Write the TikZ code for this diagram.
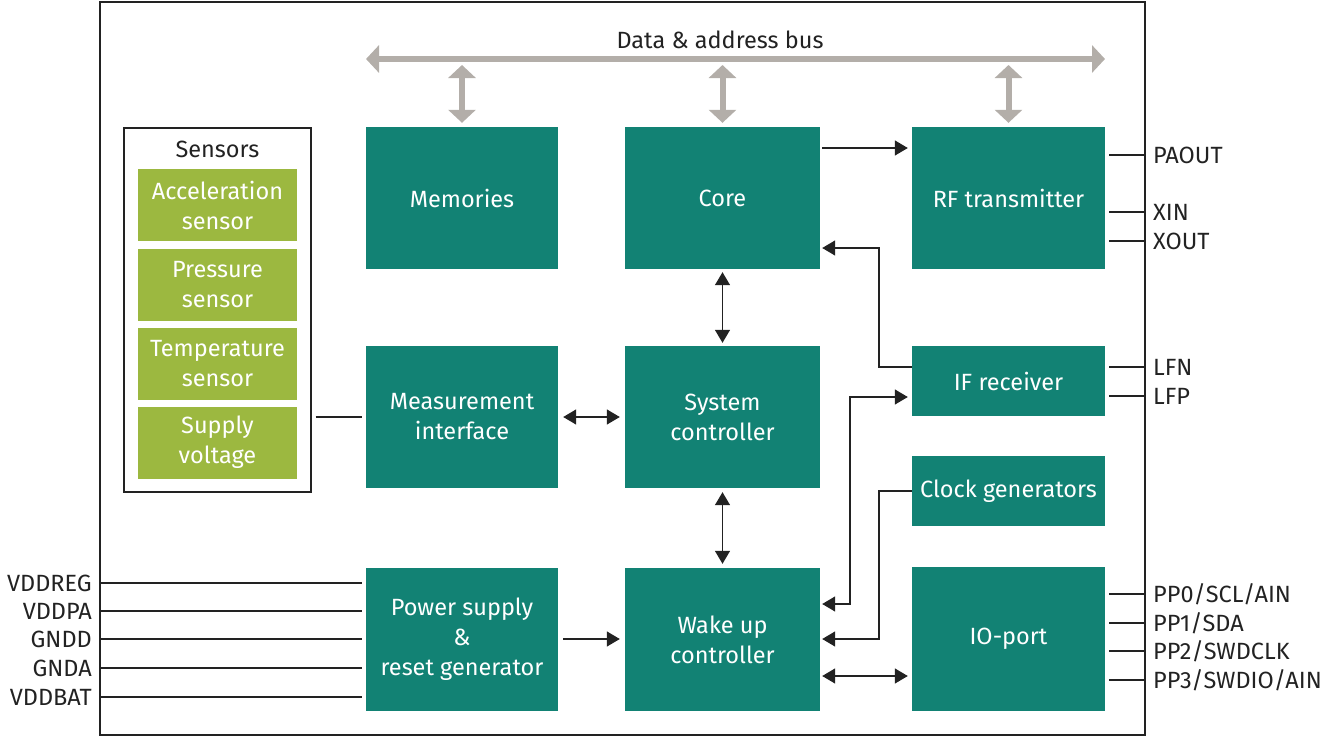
\documentclass[tikz,border=0pt]{standalone}
\usepackage{fontspec}
\setmainfont{Fira Sans}
\usetikzlibrary{arrows.meta,calc}
\definecolor{blockteal}{HTML}{128274}
\definecolor{sensgreen}{HTML}{9CB840}
\definecolor{busgray}{HTML}{B3AEA9}
\definecolor{ink}{HTML}{222222}
\newcommand{\txtfont}{\fontsize{23.5}{30}\selectfont}
\tikzset{
  blk/.style={fill=blockteal, draw=none, text=white, align=center,
    font=\txtfont, inner sep=0pt},
  sens/.style={fill=sensgreen, draw=none, text=white, align=center,
    font=\txtfont, inner sep=0pt,
    minimum width=159pt, minimum height=72pt},
  pinlbl/.style={text=ink, inner sep=0pt, text height=16.2pt, text depth=0pt,
    font=\txtfont},
  wire/.style={draw=ink, line width=1.4pt},
  arr/.style={wire, -{Triangle[length=13pt,width=15pt]}},
  darr/.style={wire, {Triangle[length=13pt,width=15pt]}-{Triangle[length=13pt,width=15pt]}},
  bus/.style={draw=busgray, line width=6pt,
    {Triangle[length=13pt,width=27pt]}-{Triangle[length=13pt,width=27pt]}},
}
\begin{document}
\begin{tikzpicture}[x=1pt, y=-1pt]
\useasboundingbox (0,0) rectangle (1334,736);

% chip outline
\draw[draw=ink, line width=1.3pt] (100,2) rectangle (1145,735);

% functional blocks
\node[blk, minimum width=192pt, minimum height=142pt] (mem)   at (462,198)    {Memories};
\node[blk, minimum width=195pt, minimum height=142pt] (core)  at (722.5,198)  {Core};
\node[blk, minimum width=193pt, minimum height=142pt] (rf)    at (1008.5,198) {RF transmitter};
\node[blk, minimum width=192pt, minimum height=142pt] (meas)  at (462,417)    {Measurement\\interface};
\node[blk, minimum width=195pt, minimum height=142pt] (sys)   at (722.5,417)  {System\\controller};
\node[blk, minimum width=193pt, minimum height=70pt]  (ifrx)  at (1008.5,381) {IF receiver};
\node[blk, minimum width=193pt, minimum height=70pt]  (clk)   at (1008.5,491) {Clock generators};
\node[blk, minimum width=192pt, minimum height=143pt] (pwr)   at (462,639.5)  {Power supply\\\&\\reset generator};
\node[blk, minimum width=195pt, minimum height=143pt] (wake)  at (722.5,639.5){Wake up\\controller};
\node[blk, minimum width=193pt, minimum height=144pt] (io)    at (1008.5,639) {IO-port};

% sensor group
\node[draw=ink, line width=1.3pt, minimum width=187pt, minimum height=364pt, inner sep=0pt] (sensors) at (217.5,310) {};
\node[text=ink, font=\txtfont] (senstitle) at (217.5,149) {Sensors};
\node[sens] (acc)  at (217.5,205)   {Acceleration\\sensor};
\node[sens] (pres) at (217.5,284.5) {Pressure\\sensor};
\node[sens] (temp) at (217.5,363.5) {Temperature\\sensor};
\node[sens] (supv) at (217.5,442.5) {Supply\\voltage};

% data & address bus
\coordinate (busl) at (366,59);
\coordinate (busr) at (1105,59);
\draw[bus] (busl) -- (busr);
\node[text=ink, font=\txtfont] (buslbl) at (720,40) {Data \& address bus};
\draw[bus, shorten >=4pt] (mem.north |- 0,65) -- (mem.north);
\draw[bus, shorten >=4pt] (core.north |- 0,65) -- (core.north);
\draw[bus, shorten >=4pt] (rf.north |- 0,65) -- (rf.north);

% internal signal paths
\draw[arr, shorten <=2pt, shorten >=4pt] (core.east |- 0,148) -- (rf.west |- 0,148);
\draw[arr, shorten >=2pt] (ifrx.west |- 0,367) -| (879,248) -- (core.east |- 0,248);
\draw[darr, shorten <=3pt, shorten >=3pt] (core.south) -- (sys.north);
\draw[darr, shorten <=5pt, shorten >=5pt] (meas.east) -- (sys.west);
\draw[darr, shorten <=4pt, shorten >=4pt] (sys.south) -- (wake.north);
\draw[arr, shorten <=5pt, shorten >=5pt] (pwr.east |- 0,639) -- (wake.west |- 0,639);
\draw[darr, shorten <=2pt, shorten >=4pt] (wake.east |- 0,604) -| (850,397) -- (ifrx.west |- 0,397);
\draw[arr, shorten >=2pt] (clk.west) -| (879,639) -- (wake.east |- 0,639);
\draw[darr, shorten <=2pt, shorten >=4pt] (wake.east |- 0,676) -- (io.west |- 0,676);
\draw[wire, shorten <=4pt, shorten >=4pt] (sensors.east |- 0,417) -- (meas.west |- 0,417);

% supply pins
\node[pinlbl, anchor=east] (vddreg) at (92,583) {VDDREG};
\node[pinlbl, anchor=east] (vddpa)  at (92,611) {VDDPA};
\node[pinlbl, anchor=east] (gndd)   at (92,639) {GNDD};
\node[pinlbl, anchor=east] (gnda)   at (92,668) {GNDA};
\node[pinlbl, anchor=east] (vddbat) at (92,697) {VDDBAT};
\foreach \p in {vddreg,vddpa,gndd,gnda,vddbat}
  \draw[wire, shorten <=8pt, shorten >=4pt] (\p.east) -- (pwr.west |- \p.east);

% RF, LF and port pins
\node[pinlbl, anchor=west] (paout) at (1153,155) {PAOUT};
\node[pinlbl, anchor=west] (xin)   at (1153,212) {XIN};
\node[pinlbl, anchor=west] (xout)  at (1153,241) {XOUT};
\node[pinlbl, anchor=west] (lfn)   at (1153,367) {LFN};
\node[pinlbl, anchor=west] (lfp)   at (1153,396) {LFP};
\node[pinlbl, anchor=west] (pp0)   at (1153,594) {PP0/SCL/AIN};
\node[pinlbl, anchor=west] (pp1)   at (1153,623) {PP1/SDA};
\node[pinlbl, anchor=west] (pp2)   at (1153,651) {PP2/SWDCLK};
\node[pinlbl, anchor=west] (pp3)   at (1153,680) {PP3/SWDIO/AIN};
\foreach \p/\b in {paout/rf,xin/rf,xout/rf,lfn/ifrx,lfp/ifrx,pp0/io,pp1/io,pp2/io,pp3/io}
  \draw[wire, shorten <=4pt, shorten >=8pt] (\b.east |- \p.west) -- (\p.west);
\end{tikzpicture}
\end{document}
